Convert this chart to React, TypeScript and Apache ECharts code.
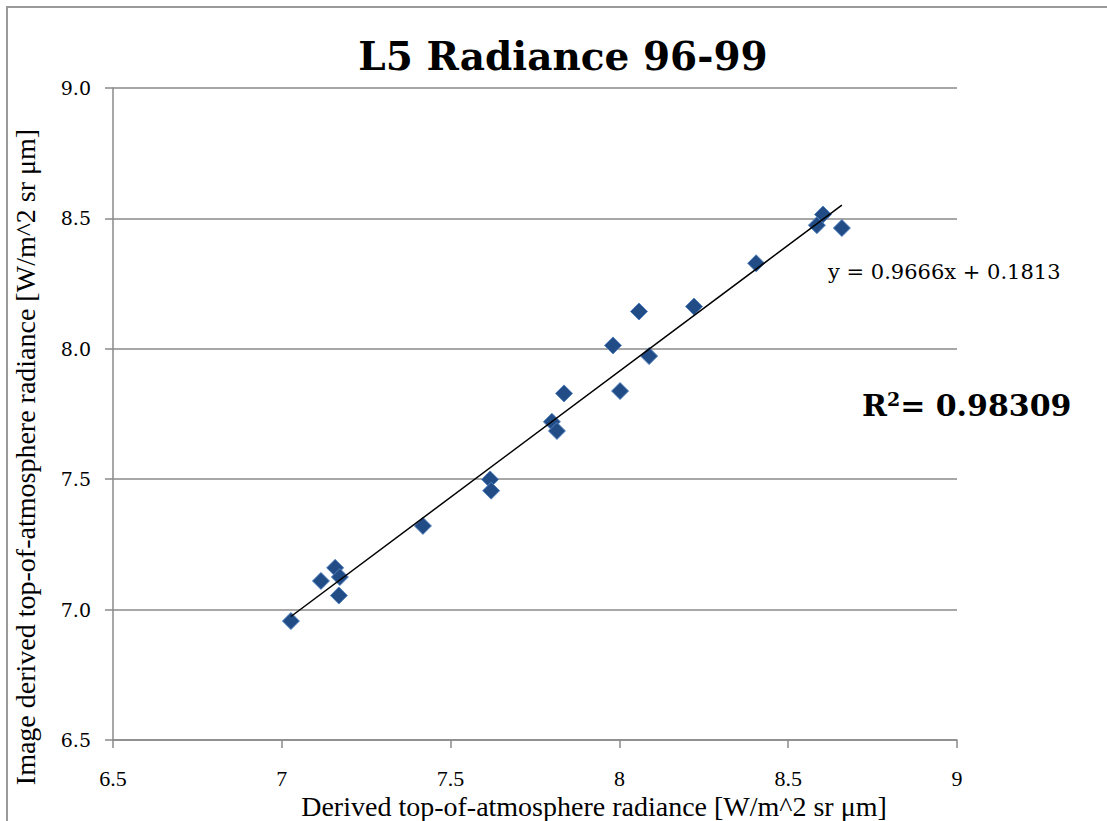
import React, { useEffect, useRef } from "react";
import * as echarts from "echarts";

const xValues = [7.027, 7.116, 7.158, 7.172, 7.169, 7.418, 7.617, 7.62, 7.8, 7.815, 7.836, 7.981, 8.002, 8.058, 8.088, 8.221, 8.405, 8.585, 8.603, 8.659];
const yValues = [6.956, 7.11, 7.16, 7.125, 7.054, 7.321, 7.499, 7.456, 7.72, 7.685, 7.829, 8.013, 7.838, 8.143, 7.972, 8.162, 8.328, 8.474, 8.515, 8.463];
const slope = 0.9666;
const intercept = 0.1813;
const xTicks = [6.5, 7, 7.5, 8, 8.5, 9];
const yTicks = [6.5, 7.0, 7.5, 8.0, 8.5, 9.0];

const titleText = "L5 Radiance 96-99";
const xName = "Derived top-of-atmosphere radiance [W/m^2 sr μm]";
const yName = "Image derived top-of-atmosphere radiance [W/m^2 sr μm]";
const eqText = "y = 0.9666x + 0.1813";

export default function App() {
  const ref = useRef<HTMLDivElement>(null);
  useEffect(() => {
    if (!ref.current) return;
    const chart = echarts.init(ref.current, null, { renderer: "svg" });
    const pts = xValues.map((x, i) => [x, yValues[i]]);
    const xMin = Math.min(...xValues);
    const xMax = Math.max(...xValues);
    const trend = [
      [xMin, slope * xMin + intercept],
      [xMax, slope * xMax + intercept],
    ];
    const serif = "'Liberation Serif', 'DejaVu Serif', serif";
    chart.setOption({
      animation: false,
      backgroundColor: "#ffffff",
      grid: { left: 113, right: 150, top: 88, bottom: 81 },
      xAxis: {
        type: "value",
        min: 6.5,
        max: 9,
        interval: 0.5,
        axisLine: { show: true, onZero: false, lineStyle: { color: "#8a8a8a", width: 1.5 } },
        axisTick: { show: true, length: 8, lineStyle: { color: "#8a8a8a", width: 1.5 } },
        splitLine: { show: false },
        axisLabel: {
          margin: 27,
          fontFamily: serif,
          fontSize: 22,
          lineHeight: 22,
          color: "#000",
          formatter: (v: number) => (xTicks.includes(v) ? String(v) : ""),
        },
      },
      yAxis: {
        type: "value",
        min: 6.5,
        max: 9,
        interval: 0.5,
        axisLine: { show: true, onZero: false, lineStyle: { color: "#8a8a8a", width: 1.5 } },
        axisTick: { show: true, length: 8, lineStyle: { color: "#8a8a8a", width: 1.5 } },
        splitLine: { show: true, lineStyle: { color: "#8a8a8a", width: 1.5 } },
        axisLabel: {
          margin: 22,
          fontFamily: "'DejaVu Serif', serif",
          fontSize: 19,
          color: "#000",
          formatter: (v: number) => (yTicks.includes(v) ? v.toFixed(1) : ""),
        },
      },
      series: [
        {
          type: "line",
          data: trend,
          symbol: "none",
          lineStyle: { color: "#000", width: 1.5 },
          z: 3,
        },
        {
          type: "scatter",
          data: pts,
          symbol: "diamond",
          symbolSize: [17, 17],
          itemStyle: { color: "#224c86", borderColor: "#5281bf", borderWidth: 1, opacity: 1 },
          z: 2,
        },
      ],
      graphic: [
        {
          type: "rect",
          shape: { x: 7, y: 7, width: 1200, height: 900 },
          style: { fill: "none", stroke: "#9a9a9a", lineWidth: 2 },
          silent: true,
        },
        {
          type: "text",
          x: 563,
          y: 56,
          style: {
            text: titleText,
            font: "bold 39px 'DejaVu Serif', serif",
            fill: "#000",
            align: "center",
            verticalAlign: "middle",
          },
        },
        {
          type: "text",
          x: 594,
          y: 806,
          style: {
            text: xName,
            font: "28px 'Liberation Serif', serif",
            lineHeight: 26,
            fill: "#000",
            align: "center",
            verticalAlign: "middle",
          },
        },
        {
          type: "text",
          x: 25,
          y: 457,
          rotation: Math.PI / 2,
          style: {
            text: yName,
            font: "28px 'Liberation Serif', serif",
            fill: "#000",
            align: "center",
            verticalAlign: "middle",
          },
        },
        {
          type: "text",
          x: 828,
          y: 272,
          style: {
            text: eqText,
            font: "21px 'DejaVu Serif', serif",
            fill: "#000",
            align: "left",
            verticalAlign: "middle",
          },
        },
        {
          type: "text",
          x: 862,
          y: 405,
          style: {
            rich: {
              b: { font: "bold 30px 'DejaVu Serif', serif", fill: "#000" },
              s: { font: "bold 19px 'DejaVu Serif', serif", fill: "#000", verticalAlign: "top", padding: [0, 0, 12, 0] },
            },
            text: "{b|R}{s|2}{b|= 0.98309}",
            verticalAlign: "middle",
          },
        },
      ],
    });
    return () => chart.dispose();
  }, []);
  return (
    <div
      ref={ref}
      style={{ position: "fixed", left: 0, top: 0, width: 1107, height: 821 }}
    />
  );
}
